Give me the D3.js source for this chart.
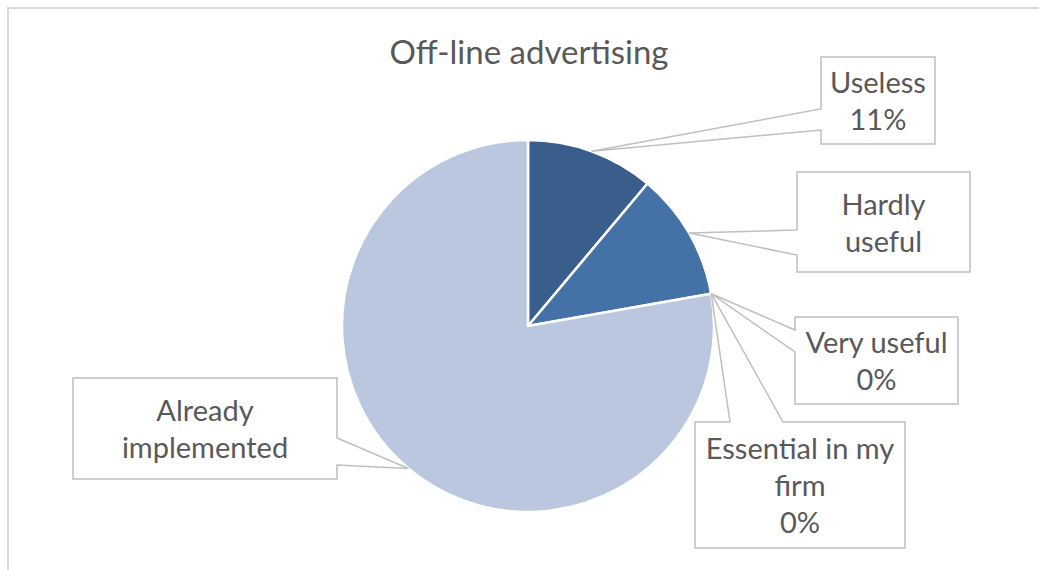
<!DOCTYPE html>
<html>
<head>
<meta charset="utf-8">
<script src="https://cdn.jsdelivr.net/npm/d3@7"></script>
<style>
  html, body { margin: 0; padding: 0; background: #fff; }
  svg { display: block; }
</style>
</head>
<body>
<svg id="chart" width="1039" height="570"></svg>
<script>
  var title = "Off-line advertising";
  var categories = ["Useless", "Hardly useful", "Very useful", "Essential in my firm", "Already implemented"];
  var counts = [1, 1, 0, 0, 7];
  var showPercent = [true, false, true, true, false];
  var labelLines = [["Useless"], ["Hardly", "useful"], ["Very useful"], ["Essential in my", "firm"], ["Already", "implemented"]];
  var colors = ["#3a5e8c", "#4472a6", "#4472a6", "#4472a6", "#bac7df"];

  // label callout boxes: x, y, w, h, side the pointer leaves from, pointer base range
  var boxes = [
    { x: 821, y: 57, w: 114, h: 87, side: "left", a: 109, b: 130 },
    { x: 797, y: 172, w: 173, h: 100, side: "left", a: 230, b: 255 },
    { x: 795, y: 317, w: 163, h: 87, side: "left", a: 330, b: 352 },
    { x: 695, y: 422, w: 210, h: 126, side: "top", a: 730, b: 783 },
    { x: 73, y: 378, w: 264, h: 101, side: "right", a: 438, b: 465 }
  ];

  var W = 1039, H = 570;
  var cx = 528, cy = 326, r = 186;
  var font = "Lato, 'Open Sans', sans-serif";
  var textColor = "#595959";

  var svg = d3.select("#chart");

  // outer chart frame
  svg.append("rect")
    .attr("x", 8).attr("y", 8)
    .attr("width", W + 10).attr("height", H + 10)
    .attr("fill", "none")
    .attr("stroke", "#d9d9d9")
    .attr("stroke-width", 2);

  svg.append("text")
    .attr("x", cx + 1).attr("y", 64)
    .attr("text-anchor", "middle")
    .attr("font-family", font)
    .attr("font-size", 33)
    .attr("fill", textColor)
    .text(title);

  var total = d3.sum(counts);
  var data = categories.map(function (c, i) {
    return { name: c, value: counts[i], i: i };
  });

  var pie = d3.pie().sort(null).value(function (d) { return d.value; });
  var arcs = pie(data);

  var arc = d3.arc().innerRadius(0).outerRadius(r);
  var edgeArc = d3.arc().innerRadius(r).outerRadius(r);

  var g = svg.append("g").attr("transform", "translate(" + cx + "," + cy + ")");

  g.selectAll("path.slice")
    .data(arcs.filter(function (d) { return d.value > 0; }))
    .enter()
    .append("path")
    .attr("class", "slice")
    .attr("d", arc)
    .attr("fill", function (d) { return colors[d.data.i]; })
    .attr("stroke", "#fff")
    .attr("stroke-width", 2.5)
    .attr("stroke-linejoin", "round");

  // callout outline with a pointer to the middle of the slice edge
  function calloutPath(b, tip) {
    var x0 = b.x, y0 = b.y, x1 = b.x + b.w, y1 = b.y + b.h;
    var p = d3.path();
    if (b.side === "left") {
      p.moveTo(x0, y0); p.lineTo(x1, y0); p.lineTo(x1, y1); p.lineTo(x0, y1);
      p.lineTo(x0, b.b); p.lineTo(tip[0], tip[1]); p.lineTo(x0, b.a);
    } else if (b.side === "right") {
      p.moveTo(x0, y0); p.lineTo(x1, y0); p.lineTo(x1, b.a);
      p.lineTo(tip[0], tip[1]); p.lineTo(x1, b.b); p.lineTo(x1, y1); p.lineTo(x0, y1);
    } else {
      p.moveTo(x0, y0); p.lineTo(b.a, y0); p.lineTo(tip[0], tip[1]); p.lineTo(b.b, y0);
      p.lineTo(x1, y0); p.lineTo(x1, y1); p.lineTo(x0, y1);
    }
    p.closePath();
    return p.toString();
  }

  var labels = svg.append("g");
  arcs.forEach(function (d, i) {
    var b = boxes[i];
    var c = edgeArc.centroid(d);
    var tip = [cx + c[0], cy + c[1]];
    labels.append("path")
      .attr("d", calloutPath(b, tip))
      .attr("fill", "#fff")
      .attr("stroke", "#bfbfbf")
      .attr("stroke-width", 1.5);

    var lines = labelLines[i].slice();
    if (showPercent[i]) lines.push(d3.format(".0%")(d.value / total));
    var lh = 37;
    var midY = b.y + b.h / 2;
    var firstBase = midY - (lines.length - 1) * lh / 2 + 11;
    var t = labels.append("text")
      .attr("text-anchor", "middle")
      .attr("font-family", font)
      .attr("font-size", 29)
      .attr("fill", textColor);
    lines.forEach(function (s, k) {
      t.append("tspan")
        .attr("x", b.x + b.w / 2)
        .attr("y", firstBase + k * lh)
        .text(s);
    });
  });
</script>
</body>
</html>
